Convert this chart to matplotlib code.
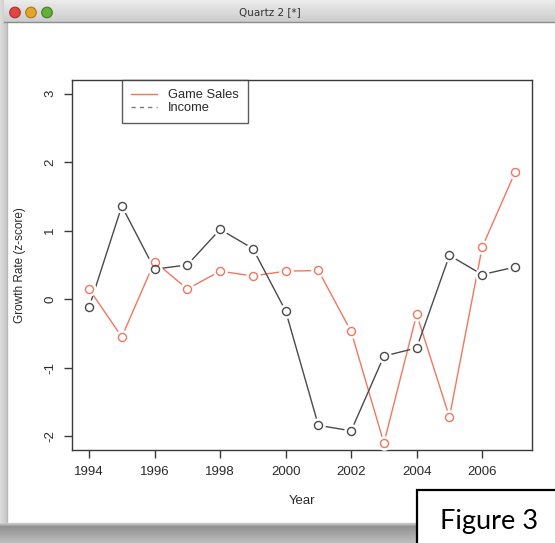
import numpy as np
import matplotlib
matplotlib.use("Agg")
import matplotlib.pyplot as plt
from matplotlib.patches import Rectangle, Circle
from matplotlib.lines import Line2D

# ---- data ----
years = [1994, 1995, 1996, 1997, 1998, 1999, 2000, 2001, 2002, 2003, 2004, 2005, 2006, 2007]
game_sales = [0.15, -0.55, 0.55, 0.15, 0.41, 0.34, 0.41, 0.42, -0.47, -2.10, -0.22, -1.72, 0.76, 1.85]
income = [-0.12, 1.36, 0.44, 0.50, 1.02, 0.74, -0.17, -1.84, -1.92, -0.83, -0.71, 0.64, 0.36, 0.47]
x_ticks = [1994, 1996, 1998, 2000, 2002, 2004, 2006]
y_ticks = [-2, -1, 0, 1, 2, 3]
series_labels = ["Game Sales", "Income"]

W, H = 555, 543
fig = plt.figure(figsize=(W / 100, H / 100), dpi=100)
fig.patch.set_facecolor("#d2d2d2")

# ---- window chrome (background) ----
bg = fig.add_axes([0, 0, 1, 1], zorder=0)
bg.set_xlim(0, W)
bg.set_ylim(H, 0)
bg.axis("off")
strip = np.linspace(0.86, 0.78, 8).reshape(1, -1)
bg.imshow(strip, extent=(0, 7, 523, 0), cmap="gray", vmin=0, vmax=1, aspect="auto", zorder=1)
shadow = np.concatenate([np.linspace(0.78, 0.58, 4), np.linspace(0.58, 0.74, 16)]).reshape(-1, 1)
bg.imshow(shadow, extent=(0, W, H, 523), cmap="gray", vmin=0, vmax=1, aspect="auto", zorder=1)
bg.add_patch(Rectangle((7, 22), W - 7, 523 - 22, facecolor="white", edgecolor="none", zorder=2))
bg.plot([7, 7], [22, 523], color="#b8b8b8", lw=1, zorder=3)
bg.plot([7, W], [523, 523], color="#c8c8c8", lw=1, zorder=3)
tb = np.linspace(0.92, 0.80, 22).reshape(-1, 1)
bg.imshow(tb, extent=(4, W, 22, 0), cmap="gray", vmin=0, vmax=1, aspect="auto", zorder=2)
bg.plot([4, W], [22, 22], color="#8c8c8c", lw=1, zorder=3)
for cx, fc, ec in [(15, "#e2453f", "#a5302b"), (31, "#e3a52a", "#a97718"), (47, "#63b03c", "#3f7d22")]:
    bg.add_patch(Circle((cx, 12.5), 5.3, facecolor=fc, edgecolor=ec, lw=0.8, zorder=4))
bg.text(270, 12, "Quartz 2 [*]", ha="center", va="center", fontsize=7.5,
        family="DejaVu Sans", color="#333333", zorder=4)

# ---- main plot ----
left, right, top, bottom = 72, 532, 80, 450
ax = fig.add_axes([left / W, 1 - bottom / H, (right - left) / W, (bottom - top) / H], zorder=1)
ax.set_facecolor("none")

red = "#f3765f"
dark = "#4a4a4a"

ax.plot(years, game_sales, color=red, lw=1.0, zorder=2)
ax.plot(years, income, color=dark, lw=1.0, zorder=2)
for vals, col in [(game_sales, red), (income, dark)]:
    ax.plot(years, vals, ls="none", marker="o", ms=9.5, mfc="white", mec="white", zorder=3)
for vals, col in [(game_sales, red), (income, dark)]:
    ax.plot(years, vals, ls="none", marker="o", ms=5.8, mfc="none", mec=col, mew=1.0, zorder=4)

ax.set_xlim(1993.48, 2007.52)
ax.set_ylim(-2.2, 3.2)
ax.set_xticks(x_ticks)
ax.set_yticks(y_ticks)
ax.set_xticklabels([str(t) for t in x_ticks])
ax.set_yticklabels([str(t) for t in y_ticks])

fam = ["Liberation Sans", "DejaVu Sans"]
for s in ax.spines.values():
    s.set_color("#3a3a3a")
    s.set_linewidth(1.0)
ax.tick_params(direction="out", length=5.5, width=1.0, color="#3a3a3a",
               labelsize=9.5, labelcolor="#2a2a2a", pad=6)
ax.tick_params(axis="y", labelrotation=90)
for lab in ax.get_yticklabels():
    lab.set_va("center")
    lab.set_family(fam)
for lab in ax.get_xticklabels():
    lab.set_family(fam)

ax.set_xlabel("Year", fontsize=9.5, family=fam, color="#2a2a2a", labelpad=12)
ax.set_ylabel("Growth Rate (z-score)", fontsize=8.5, family=fam, color="#2a2a2a", labelpad=13)

handles = [Line2D([0], [0], color=red, lw=1.0),
           Line2D([0], [0], color="#777777", lw=1.0, ls=(0, (3, 3)))]
leg = ax.legend(handles, series_labels, loc="upper left", bbox_to_anchor=(0.1087, 1.0),
                borderaxespad=0, frameon=True, fancybox=False, borderpad=0.72,
                handlelength=2.0, handletextpad=0.85, labelspacing=0.05,
                prop={"family": fam, "size": 9.3})
leg.get_frame().set_edgecolor("#333333")
leg.get_frame().set_linewidth(1.0)
for t in leg.get_texts():
    t.set_color("#2a2a2a")

# ---- "Figure 3" caption box ----
ov = fig.add_axes([0, 0, 1, 1], zorder=5)
ov.set_xlim(0, W)
ov.set_ylim(H, 0)
ov.axis("off")
ov.set_facecolor("none")
ov.add_patch(Rectangle((417, 490), 200, 100, facecolor="white", edgecolor="black", lw=1.6, zorder=1))
ov.text(489, 521, "Figure 3", ha="center", va="center", fontsize=19.5,
        family=["Lato", "DejaVu Sans"], color="black", zorder=2)

fig.savefig("out.png", dpi=100)
